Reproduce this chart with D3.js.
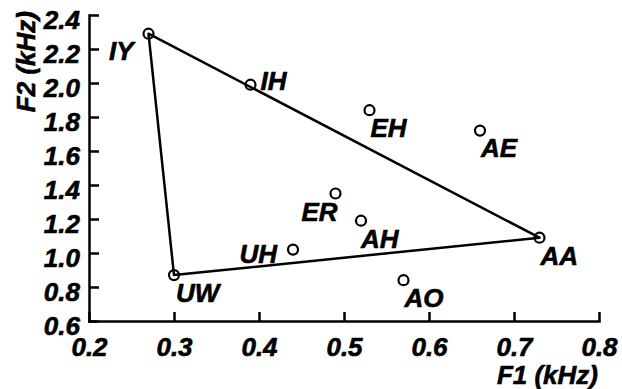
<!DOCTYPE html>
<html>
<head>
<meta charset="utf-8">
<script src="https://cdn.jsdelivr.net/npm/d3@7/dist/d3.min.js"></script>
<style>
  html, body { margin: 0; padding: 0; background: #fff; }
  svg { display: block; }
  text { font-family: "Liberation Sans", Arial, Helvetica, sans-serif; font-weight: bold; font-style: italic; }
</style>
</head>
<body>
<svg id="chart" width="622" height="389"></svg>
<script>
// Vowel formant frequencies (kHz)
const vowels = ["IY", "IH", "EH", "AE", "ER", "AH", "UH", "AA", "AO", "UW"];
const f1 = [0.27, 0.39, 0.53, 0.66, 0.49, 0.52, 0.44, 0.73, 0.57, 0.30];
const f2 = [2.29, 1.99, 1.84, 1.72, 1.35, 1.19, 1.02, 1.09, 0.84, 0.87];

// Corner vowels forming the vowel triangle
const triangle = ["IY", "AA", "UW"];

const xTicks = [0.2, 0.3, 0.4, 0.5, 0.6, 0.7, 0.8];
const yTicks = [0.6, 0.8, 1.0, 1.2, 1.4, 1.6, 1.8, 2.0, 2.2, 2.4];

const svg = d3.select("#chart");
const margin = { left: 89, right: 23, top: 15, bottom: 68 };
const W = 622, H = 389;
const FS = "26px";

const x = d3.scaleLinear().domain([0.2, 0.8]).range([margin.left, W - margin.right]);
const y = d3.scaleLinear().domain([0.6, 2.4]).range([H - margin.bottom, margin.top]);

const fmt = d3.format(".1f");

// Axes with inward ticks
const gx = svg.append("g")
  .attr("transform", `translate(0,${y(0.6)})`)
  .call(d3.axisBottom(x).tickValues(xTicks).tickFormat(fmt)
    .tickSizeInner(-9).tickSizeOuter(0).tickPadding(17));

const gy = svg.append("g")
  .attr("transform", `translate(${x(0.2)},0)`)
  .call(d3.axisLeft(y).tickValues(yTicks).tickFormat(fmt)
    .tickSizeInner(-10).tickSizeOuter(0).tickPadding(9));

[gx, gy].forEach(g => {
  g.select(".domain").attr("stroke", "#000").attr("stroke-width", 2.5).attr("stroke-linecap", "square");
  g.selectAll(".tick line").attr("stroke", "#000").attr("stroke-width", 2.5);
  g.selectAll(".tick text").attr("fill", "#000")
    .attr("stroke", "#000").attr("stroke-width", 0.6)
    .style("font-size", FS);
});
gy.selectAll(".tick text").attr("dy", "0.52em");

// Axis titles
const title = sel => sel.attr("stroke", "#000").attr("stroke-width", 0.6).style("font-size", FS);

svg.append("text")
  .attr("x", W - 24).attr("y", 384)
  .attr("text-anchor", "end")
  .call(title)
  .text("F1 (kHz)");

svg.append("text")
  .attr("transform", `translate(35,11) rotate(-90)`)
  .attr("text-anchor", "end")
  .call(title)
  .text("F2 (kHz)");

// Vowel triangle
const pts = vowels.map((v, i) => ({ name: v, f1: f1[i], f2: f2[i] }));
const byName = new Map(pts.map(p => [p.name, p]));
const triPts = triangle.map(n => byName.get(n));

svg.append("path")
  .attr("d", d3.line().x(d => x(d.f1)).y(d => y(d.f2))(triPts) + "Z")
  .attr("fill", "none")
  .attr("stroke", "#000")
  .attr("stroke-width", 2.5)
  .attr("stroke-linejoin", "round");

// Markers
svg.append("g").selectAll("circle")
  .data(pts)
  .join("circle")
  .attr("cx", d => x(d.f1))
  .attr("cy", d => y(d.f2))
  .attr("r", 5)
  .attr("fill", "none")
  .attr("stroke", "#000")
  .attr("stroke-width", 2.2);

// Label placement around each marker
const placement = {
  IY: { a: "end", dx: -15, dy: 26 },
  IH: { a: "start", dx: 10, dy: 5 },
  EH: { a: "start", dx: 1, dy: 27 },
  AE: { a: "start", dx: 1, dy: 26 },
  ER: { a: "end", dx: 2, dy: 27 },
  AH: { a: "start", dx: 0, dy: 27 },
  UH: { a: "end", dx: -16, dy: 13 },
  AA: { a: "start", dx: 1, dy: 27 },
  AO: { a: "start", dx: 1, dy: 27 },
  UW: { a: "start", dx: 2, dy: 27 }
};

svg.append("g").selectAll("text")
  .data(pts)
  .join("text")
  .attr("x", d => x(d.f1) + placement[d.name].dx)
  .attr("y", d => y(d.f2) + placement[d.name].dy)
  .attr("text-anchor", d => placement[d.name].a)
  .attr("stroke", "#000").attr("stroke-width", 0.6)
  .style("font-size", FS)
  .text(d => d.name);
</script>
</body>
</html>
